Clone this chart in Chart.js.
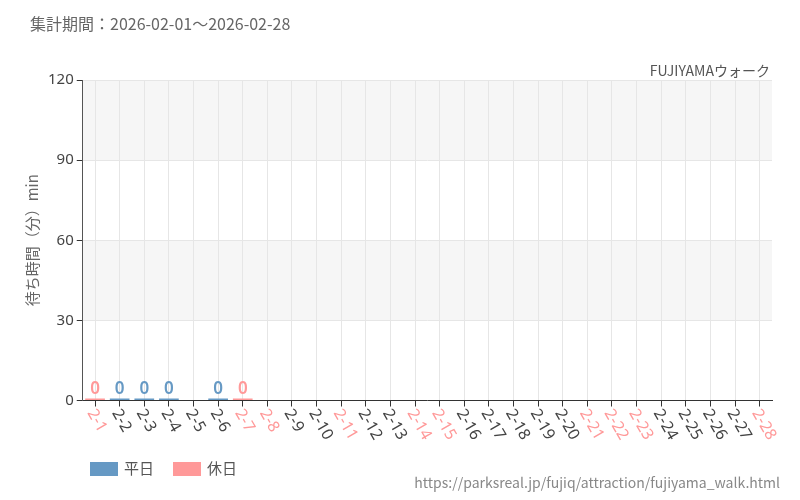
<!DOCTYPE html>
<html><head><meta charset="utf-8">
<script src="https://cdn.jsdelivr.net/npm/chart.js@4"></script>
<style>
body{margin:0;background:#fff;font-family:"Noto Sans CJK JP","Noto Sans",sans-serif;}
#wrap{position:relative;width:800px;height:500px;}
#title{position:absolute;left:30px;top:11px;font-size:16px;color:#666;}
#name{position:absolute;right:30px;top:60px;font-size:14px;color:#555;}
#url{position:absolute;right:20px;top:472px;font-size:14px;color:#888;}
#legend{position:absolute;left:90px;top:457px;font-size:15px;color:#555;}
#legend span.box{display:inline-block;width:28px;height:14px;vertical-align:-2px;margin-right:6px;}
canvas{position:absolute;left:0;top:0;}
</style></head><body>
<div id="wrap">
<canvas id="c" width="800" height="500"></canvas>
<div id="title">集計期間：2026-02-01～2026-02-28</div>
<div id="name">FUJIYAMAウォーク</div>
<div id="legend"><span class="box" style="background:#6699c4"></span>平日　<span class="box" style="background:#ff9999;margin-left:4px"></span>休日</div>
<div id="url">https://parksreal.jp/fujiq/attraction/fujiyama_walk.html</div>
</div>
<script>
const days = ['2-1','2-2','2-3','2-4','2-5','2-6','2-7','2-8','2-9','2-10','2-11','2-12','2-13','2-14','2-15','2-16','2-17','2-18','2-19','2-20','2-21','2-22','2-23','2-24','2-25','2-26','2-27','2-28'];
const holidays = ['2-1','2-7','2-8','2-11','2-14','2-15','2-21','2-22','2-23','2-28'];
const waits = [0,0,0,0,null,0,0,null,null,null,null,null,null,null,null,null,null,null,null,null,null,null,null,null,null,null,null,null];
const yTicks = [0,30,60,90,120];

const BLUE = '#6699c4', PINK = '#ff9999';
const colorOf = i => holidays.includes(days[i]) ? PINK : BLUE;

const bands = {
  id: 'bands',
  beforeDraw(chart) {
    const {ctx, chartArea: a, scales: {y}} = chart;
    ctx.save();
    ctx.fillStyle = '#f6f6f6';
    [[30,60],[90,120]].forEach(([lo,hi]) => {
      ctx.fillRect(a.left, y.getPixelForValue(hi), a.right - a.left, y.getPixelForValue(lo) - y.getPixelForValue(hi));
    });
    ctx.restore();
  }
};

// value labels above bars + clockwise-rotated x labels
const labels = {
  id: 'labels',
  afterDraw(chart) {
    const {ctx, scales: {x}} = chart;
    const meta = chart.getDatasetMeta(0);
    ctx.save();
    ctx.font = '600 17px "Noto Sans", sans-serif';
    ctx.textAlign = 'center';
    ctx.textBaseline = 'bottom';
    meta.data.forEach((bar, i) => {
      if (waits[i] === null) return;
      ctx.fillStyle = colorOf(i);
      ctx.fillText(String(waits[i]), bar.x, bar.y - 1);
    });
    ctx.font = '16px "Noto Sans", sans-serif';
    ctx.textAlign = 'left';
    ctx.textBaseline = 'middle';
    days.forEach((d, i) => {
      const px = x.getPixelForValue(i);
      ctx.save();
      ctx.translate(px - 4, x.top + 10);
      ctx.rotate(Math.PI / 3);
      ctx.fillStyle = colorOf(i) === PINK ? PINK : '#444';
      ctx.fillText(d, 0, 0);
      ctx.restore();
    });
    ctx.restore();
  }
};

new Chart(document.getElementById('c'), {
  type: 'bar',
  data: {
    labels: days,
    datasets: [{
      data: waits,
      backgroundColor: days.map((d, i) => colorOf(i)),
      minBarLength: 2,
      barPercentage: 0.8,
      categoryPercentage: 1
    }]
  },
  options: {
    responsive: false,
    animation: false,
    layout: { padding: { left: 19, right: 28, top: 80, bottom: 52 } },
    plugins: { legend: { display: false }, tooltip: { enabled: false } },
    scales: {
      x: {
        grid: { offset: false, color: '#e6e6e6', tickColor: '#333', tickLength: 6 },
        border: { color: '#333' },
        ticks: {
          maxRotation: 60, minRotation: 60, autoSkip: false,
          color: 'rgba(0,0,0,0)',
          font: { size: 15, family: '"Noto Sans", sans-serif' }
        }
      },
      y: {
        min: 0, max: 120,
        afterBuildTicks: ax => { ax.ticks = yTicks.map(v => ({ value: v })); },
        grid: { color: '#e6e6e6', tickColor: '#333', tickLength: 6 },
        border: { color: '#555' },
        ticks: { color: '#444', font: { size: 15, family: '"Noto Sans", sans-serif' } },
        title: { display: true, text: '待ち時間（分）min', color: '#666', font: { size: 15, family: '"Noto Sans CJK JP", sans-serif' } }
      }
    }
  },
  plugins: [bands, labels]
});
</script>
</body></html>
